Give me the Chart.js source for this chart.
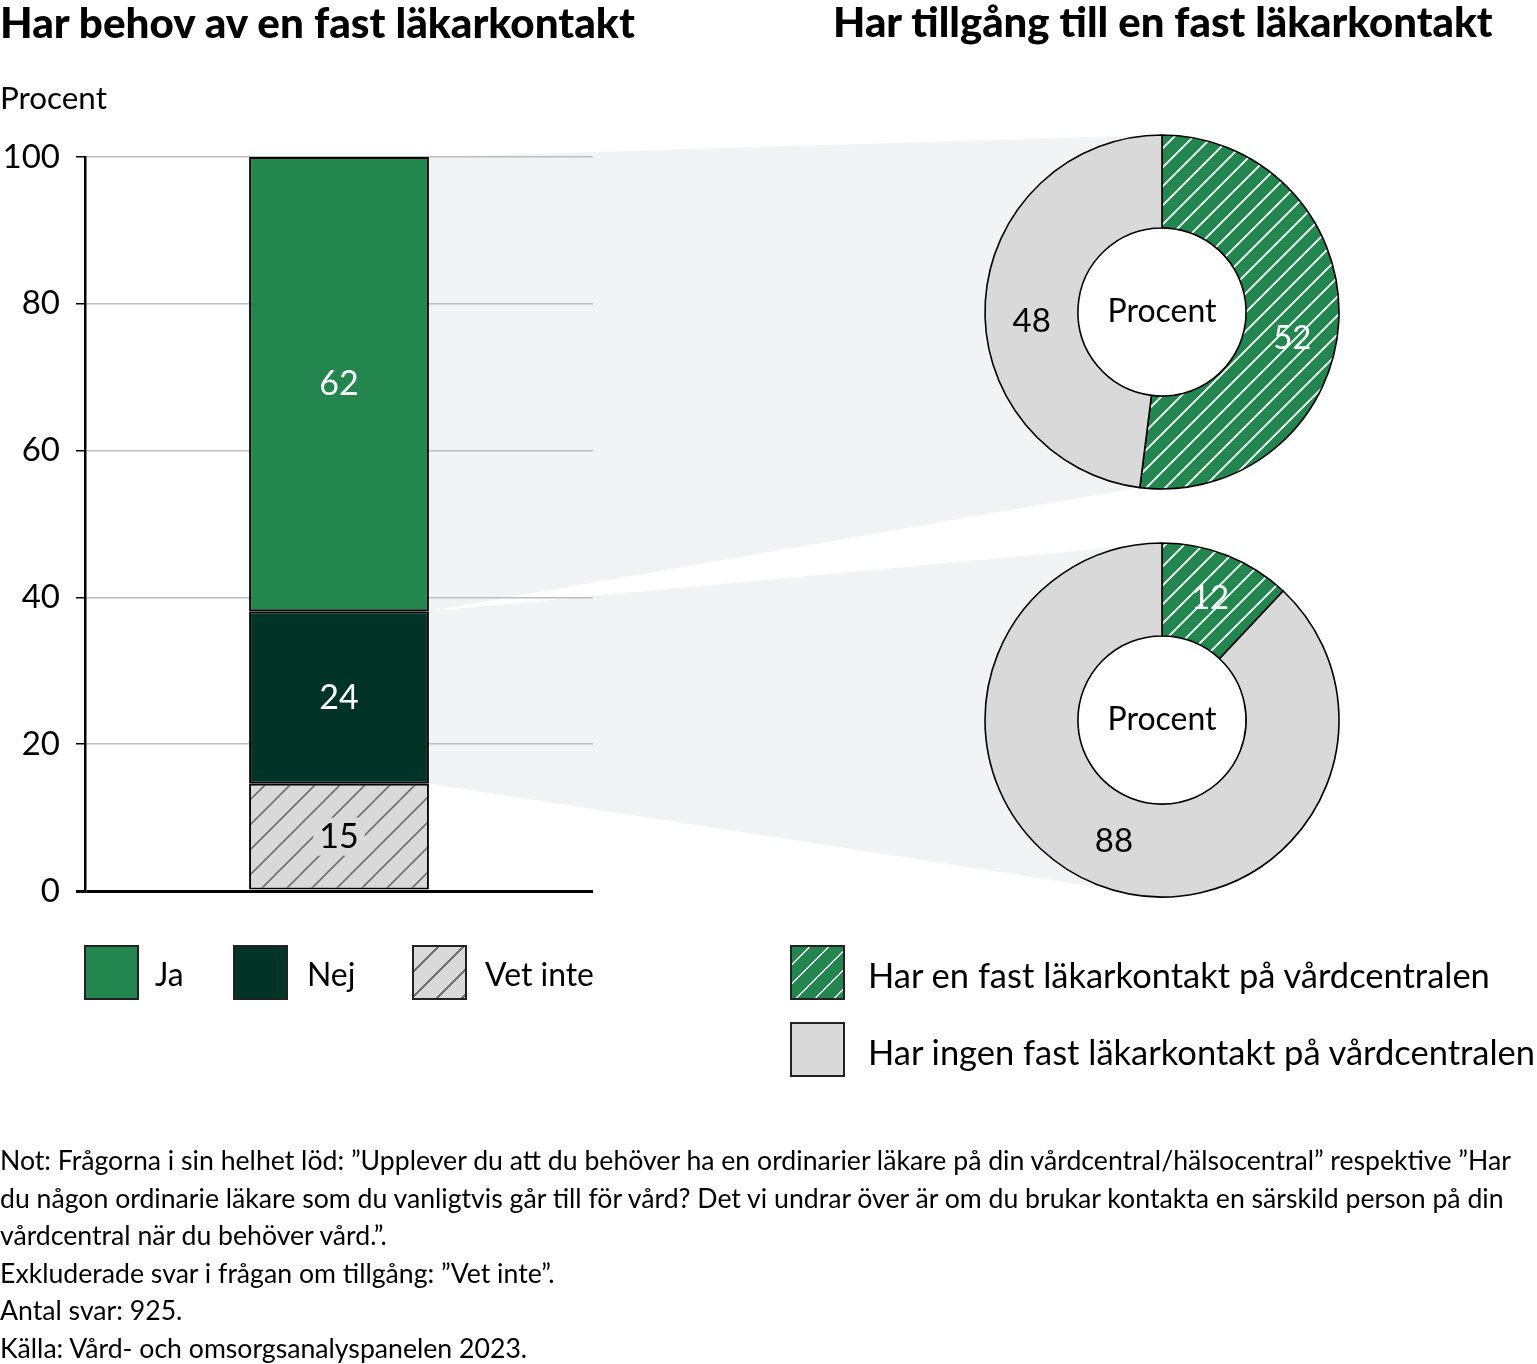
<!DOCTYPE html>
<html><head><meta charset="utf-8">
<script src="https://cdn.jsdelivr.net/npm/chart.js@4"></script>
<style>
body{margin:0;background:#fff;}
#wrap{position:relative;width:1537px;height:1364px;overflow:hidden;font-family:Lato,"Noto Sans",sans-serif;color:#000;}
canvas{position:absolute;left:0;top:0;}
.t{position:absolute;white-space:nowrap;line-height:1;transform:translateY(-50%);}
.sw{position:absolute;width:55px;height:55px;border:2px solid #222;box-sizing:border-box;}
</style></head>
<body><div id="wrap">
<canvas id="bar" width="1537" height="1364"></canvas>
<canvas id="d1" width="1537" height="1364"></canvas>
<canvas id="d2" width="1537" height="1364"></canvas>
</div>
<script>
// ---------- data ----------
const barCategories = ['Har behov av en fast läkarkontakt'];
const barSeries = ['Vet inte', 'Nej', 'Ja'];
const barValues = [14.6, 23.5, 61.9];
const barLabels = ['15', '24', '62'];
const yTickStep = 20;
const donutCategories = ['Har en fast läkarkontakt på vårdcentralen', 'Har ingen fast läkarkontakt på vårdcentralen'];
const donutTopValues = [52, 48];
const donutBottomValues = [12, 88];
const titles = ['Har behov av en fast läkarkontakt', 'Har tillgång till en fast läkarkontakt'];
const notes = [
 'Not: Frågorna i sin helhet löd: ”Upplever du att du behöver ha en ordinarier läkare på din vårdcentral/hälsocentral” respektive ”Har',
 'du någon ordinarie läkare som du vanligtvis går till för vård? Det vi undrar över är om du brukar kontakta en särskild person på din',
 'vårdcentral när du behöver vård.”.',
 'Exkluderade svar i frågan om tillgång: ”Vet inte”.',
 'Antal svar: 925.',
 'Källa: Vård- och omsorgsanalyspanelen 2023.'
];

// ---------- styles ----------
const FONT = 'Lato';
Chart.defaults.font.family = FONT;
Chart.defaults.color = '#000';
const GREEN = '#23864f', DARK = '#013427', LGRAY = '#d9d9d9', FUNNEL = '#f2f3f5';

function hatch(bg, line, p, lw){
  const c = document.createElement('canvas'); c.width = p; c.height = p;
  const g = c.getContext('2d');
  g.fillStyle = bg; g.fillRect(0,0,p,p);
  g.strokeStyle = line; g.lineWidth = lw;
  g.beginPath();
  g.moveTo(-p/2, p/2); g.lineTo(p/2, -p/2);
  g.moveTo(0, p); g.lineTo(p, 0);
  g.moveTo(p/2, p*1.5); g.lineTo(p*1.5, p/2);
  g.stroke();
  return g.createPattern(c, 'repeat');
}
const grayHatch = hatch(LGRAY, '#707070', 25, 1.6);
const greenHatch = hatch(GREEN, '#ffffff', 19, 1.8);
const barFills = [grayHatch, DARK, GREEN];
const barLabelColors = ['#000', '#fff', '#fff'];

// ---------- donuts ----------
const donutPlugin = {
  id: 'donutDecor',
  beforeDatasetsDraw(chart){
    const a = chart.getDatasetMeta(0).data[0];
    const ctx = chart.ctx;
    ctx.save(); ctx.fillStyle = '#fff';
    ctx.beginPath(); ctx.arc(a.x, a.y, a.innerRadius, 0, Math.PI*2); ctx.fill();
    ctx.restore();
  },
  afterDatasetsDraw(chart, args, opts){
    const ctx = chart.ctx;
    const meta = chart.getDatasetMeta(0);
    const vals = chart.data.datasets[0].data;
    ctx.save();
    ctx.textAlign = 'center'; ctx.textBaseline = 'middle';
    ctx.font = '33px ' + FONT;
    meta.data.forEach((a, i) => {
      const mid = (a.startAngle + a.endAngle)/2;
      const r = (a.innerRadius + a.outerRadius)/2;
      ctx.fillStyle = i === 0 ? '#fff' : '#000';
      ctx.fillText(String(vals[i]), a.x + r*Math.cos(mid), a.y + r*Math.sin(mid) + (opts.labelDy||0));
    });
    const a = meta.data[0];
    ctx.fillStyle = '#000';
    ctx.font = '32px ' + FONT;
    ctx.fillText('Procent', a.x, a.y);
    ctx.restore();
  }
};
function makeDonut(id, values, cx, cy, labelDy){
  const half = 185;
  return new Chart(document.getElementById(id), {
    type: 'doughnut',
    data: { labels: donutCategories, datasets: [{ data: values, backgroundColor: [greenHatch, LGRAY], borderColor: '#000', borderWidth: 1.6 }] },
    options: {
      responsive: false, animation: false,
      radius: 177, cutout: '47.5%',
      layout: { padding: { left: cx-half, top: cy-half, right: 1537-cx-half, bottom: 1364-cy-half } },
      plugins: { legend: { display: false }, tooltip: { enabled: false }, donutDecor: { labelDy } }
    },
    plugins: [donutPlugin]
  });
}
const d1 = makeDonut('d1', donutTopValues, 1162, 312, 18);
const d2 = makeDonut('d2', donutBottomValues, 1162, 720, 0);

// ---------- bar ----------
function arcPoint(a, ang){ return [a.x + a.outerRadius*Math.cos(ang), a.y + a.outerRadius*Math.sin(ang)]; }
const funnelPlugin = {
  id: 'funnels',
  beforeDraw(chart){
    const ctx = chart.ctx;
    const nej = chart.getDatasetMeta(1).data[0];
    const ja = chart.getDatasetMeta(2).data[0];
    const a1 = d1.getDatasetMeta(0).data[0];
    const a2 = d2.getDatasetMeta(0).data[0];
    const polys = [
      [[ja.x + ja.width/2, ja.y], arcPoint(a1, a1.startAngle), arcPoint(a1, a1.endAngle), [ja.x + ja.width/2, ja.base]],
      [[nej.x + nej.width/2, nej.y], arcPoint(a2, a2.startAngle), arcPoint(a2, a2.startAngle + Math.PI), [nej.x + nej.width/2, nej.base]]
    ];
    ctx.save(); ctx.fillStyle = FUNNEL;
    polys.forEach(p => { ctx.beginPath(); p.forEach((pt,i)=> i?ctx.lineTo(pt[0],pt[1]):ctx.moveTo(pt[0],pt[1])); ctx.closePath(); ctx.fill(); });
    ctx.restore();
  }
};
const barLabelPlugin = {
  id: 'barLabels',
  afterDatasetsDraw(chart){
    const ctx = chart.ctx;
    ctx.save(); ctx.textAlign = 'center'; ctx.textBaseline = 'middle'; ctx.font = '34px ' + FONT;
    chart.data.datasets.forEach((ds, i) => {
      const el = chart.getDatasetMeta(i).data[0];
      const y = (el.y + el.base)/2, x = el.x;
      if (i === 0){
        const w = ctx.measureText(barLabels[i]).width + 12;
        ctx.fillStyle = LGRAY; ctx.fillRect(x - w/2, y - 19, w, 38);
      }
      ctx.fillStyle = barLabelColors[i];
      ctx.fillText(barLabels[i], x, y);
    });
    ctx.restore();
  }
};
const bar = new Chart(document.getElementById('bar'), {
  type: 'bar',
  data: { labels: barCategories, datasets: barSeries.map((s, i) => ({
    label: s, data: [barValues[i]], backgroundColor: barFills[i], borderColor: '#000', borderWidth: 2,
    borderSkipped: false, barPercentage: 0.354, categoryPercentage: 1 })) },
  options: {
    responsive: false, animation: false,
    layout: { padding: { left: 0, top: 157, right: 944, bottom: 473 } },
    plugins: { legend: { display: false }, tooltip: { enabled: false } },
    scales: {
      x: { stacked: true, display: false },
      y: { stacked: true, min: 0, max: 100,
        afterFit(s){ s.width = 85; },
        ticks: { stepSize: yTickStep, color: '#000', font: { size: 33 }, padding: 16 },
        grid: { color: c => (c.tick && c.tick.value === 0) ? '#000' : '#bdbdbd',
                lineWidth: c => (c.tick && c.tick.value === 0) ? 3 : 1.5,
                tickColor: '#000', tickLength: 9 },
        border: { color: '#000', width: 2.5 } }
    }
  },
  plugins: [funnelPlugin, barLabelPlugin]
});

// ---------- html text ----------
const wrap = document.getElementById('wrap');
function txt(s, x, cy, size, weight){
  const e = document.createElement('div'); e.className = 't'; e.textContent = s;
  e.style.left = x + 'px'; e.style.top = cy + 'px'; e.style.fontSize = size + 'px';
  if (weight) e.style.fontWeight = weight;
  wrap.appendChild(e); return e;
}
function fitGroup(ref, target, group){
  const w = ref.getBoundingClientRect().width;
  const k = target / w;
  group.forEach(e => e.style.fontSize = (parseFloat(e.style.fontSize) * k) + 'px');
}
function sw(x, y, bg){
  const e = document.createElement('div'); e.className = 'sw'; e.style.left = x + 'px'; e.style.top = y + 'px';
  e.style.background = bg; wrap.appendChild(e); return e;
}
const t1 = txt(titles[0], 0, 22, 40, 900); fitGroup(t1, 635, [t1]);
const t2 = txt(titles[1], 833, 22, 40, 900); fitGroup(t2, 660, [t2]);
const pc = txt('Procent', 0, 98, 30); fitGroup(pc, 107, [pc]);

sw(84, 945, GREEN); sw(233, 945, DARK);
sw(412, 945, 'repeating-linear-gradient(135deg,' + LGRAY + ' 0 16px,#707070 16px 17.7px)');
const lg = [txt(barSeries[2], 155, 975, 32), txt(barSeries[1], 307, 975, 32), txt(barSeries[0], 485, 975, 32)];
fitGroup(lg[2], 109, lg);

sw(790, 945, 'repeating-linear-gradient(135deg,' + GREEN + ' 0 12px,#fff 12px 13.4px)');
sw(790, 1022, LGRAY);
const lr = [txt(donutCategories[0], 868, 975, 32), txt(donutCategories[1], 868, 1052, 32)];
fitGroup(lr[0], 622, lr);

const noteY = [1160, 1198, 1235, 1273, 1310, 1348];
const nl = notes.map((s, i) => txt(s, 0, noteY[i], 24));
fitGroup(nl[0], 1512, nl);
</script>
</body></html>
